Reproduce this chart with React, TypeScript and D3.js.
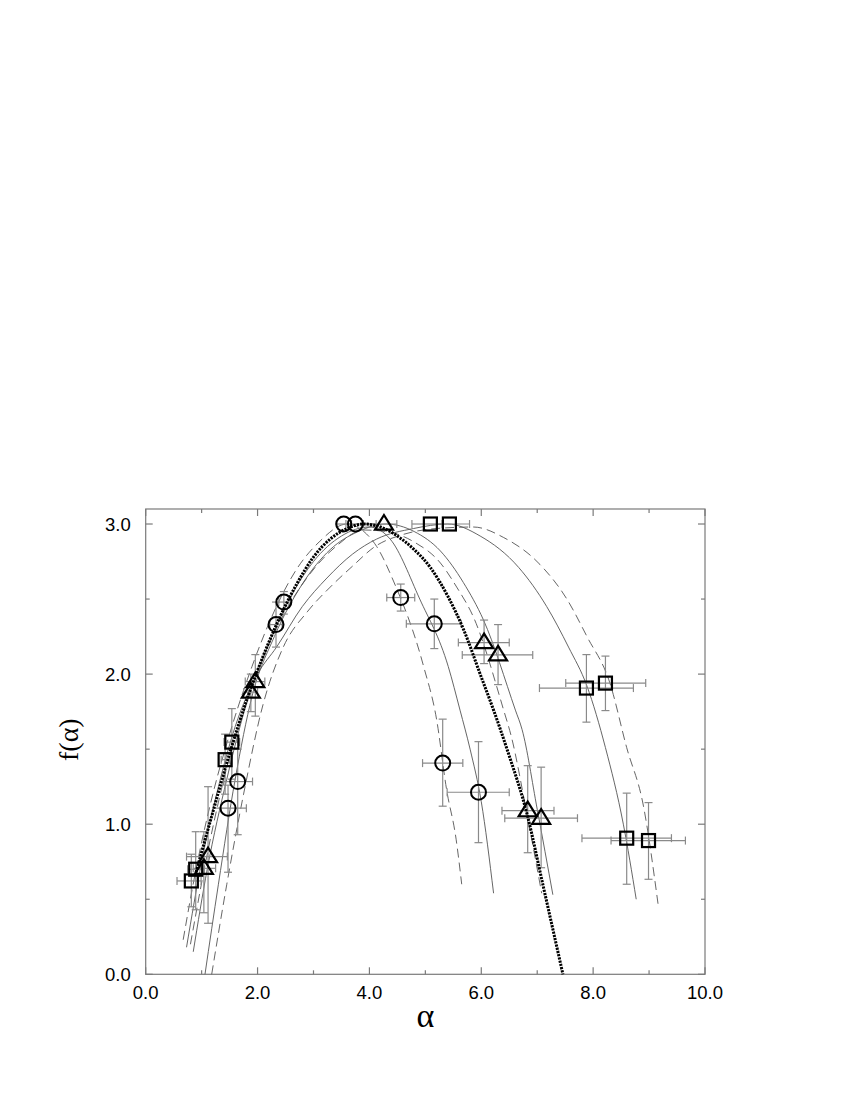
import React from "react";
import * as d3 from "d3";

type Pt = [number, number];
// [alpha, f, xLo, xHi, yLo, yHi]
type Obs = [number, number, number, number, number, number];

const xTicks = [0, 2, 4, 6, 8, 10];
const yTicks = [0, 1, 2, 3];

const circleSolid: Pt[] = [
  [0.85, 0.15], [1.1, 0.7], [1.45, 1.3], [1.8, 1.8], [2.2, 2.2], [2.6, 2.52],
  [3.0, 2.75], [3.5, 2.92], [4.0, 2.98], [4.37, 2.9], [4.9, 2.5], [5.41, 2.05],
  [5.62, 1.76], [5.8, 1.5], [6.0, 1.15], [6.22, 0.54],
];
const circleDashed: Pt[] = [
  [0.67, 0.23], [0.9, 0.7], [1.2, 1.2], [1.5, 1.6], [1.9, 2.05], [2.3, 2.42],
  [2.7, 2.7], [3.1, 2.88], [3.6, 3.0], [3.9, 2.95], [4.13, 2.85], [4.43, 2.62],
  [4.97, 2.05], [5.2, 1.7], [5.38, 1.23], [5.55, 0.9], [5.65, 0.6],
];
const triangleSolid: Pt[] = [
  [1.06, 0.0], [1.3, 0.6], [1.6, 1.3], [1.9, 1.85], [2.3, 2.25], [2.8, 2.6],
  [3.3, 2.83], [3.8, 2.95], [4.3, 3.0], [4.8, 2.95], [5.27, 2.82], [5.68, 2.61],
  [6.04, 2.36], [6.61, 1.76], [6.73, 1.63], [7.0, 1.1], [7.28, 0.53],
];
const triangleDashed: Pt[] = [
  [0.8, 0.2], [1.1, 0.8], [1.5, 1.45], [1.9, 1.92], [2.4, 2.35], [2.9, 2.65],
  [3.4, 2.85], [3.9, 2.96], [4.3, 2.95], [4.8, 2.88], [5.27, 2.74], [5.56, 2.58],
  [5.86, 2.38], [6.4, 1.76], [6.54, 1.58], [6.8, 1.1], [7.08, 0.54],
];
const squareSolid: Pt[] = [
  [0.73, 0.18], [1.0, 0.75], [1.3, 1.25], [1.6, 1.65], [2.0, 2.0], [2.34, 2.18],
  [2.8, 2.45], [3.24, 2.64], [3.7, 2.8], [4.13, 2.9], [4.79, 2.97], [5.4, 3.0],
  [5.98, 2.92], [6.67, 2.71], [7.17, 2.45], [7.56, 2.18], [7.89, 1.92],
  [8.22, 1.51], [8.54, 1.0], [8.77, 0.5],
];
const squareDashed: Pt[] = [
  [1.18, 0.0], [1.45, 0.6], [1.75, 1.2], [2.1, 1.8], [2.46, 2.18], [2.9, 2.42],
  [3.3, 2.58], [3.7, 2.72], [4.1, 2.85], [4.6, 2.93], [5.2, 2.97], [5.86, 2.98],
  [6.4, 2.91], [7.05, 2.73], [7.53, 2.5], [7.89, 2.25], [8.3, 1.94],
  [8.6, 1.51], [8.9, 1.12], [9.16, 0.47],
];
const dottedFit: Pt[] = [
  [0.9, 0.68], [1.2, 1.08], [1.5, 1.47], [1.8, 1.82], [2.1, 2.12], [2.4, 2.38],
  [2.7, 2.6], [3.0, 2.78], [3.3, 2.9], [3.6, 2.97], [3.9, 3.0], [4.2, 2.98],
  [4.5, 2.92], [4.8, 2.83], [5.09, 2.71], [5.4, 2.52], [5.68, 2.3], [6.0, 1.98],
  [6.22, 1.76], [6.46, 1.5], [6.83, 1.05], [7.1, 0.6], [7.46, 0.0],
];

const circles: Obs[] = [
  [3.54, 3.0, 3.42, 3.68, 3.0, 3.0],
  [3.75, 3.0, 3.58, 4.12, 3.0, 3.0],
  [2.33, 2.33, 2.22, 2.44, 2.18, 2.48],
  [2.47, 2.48, 2.38, 2.56, 2.4, 2.55],
  [4.56, 2.51, 4.31, 4.81, 2.42, 2.6],
  [5.16, 2.335, 4.66, 5.64, 2.17, 2.5],
  [5.31, 1.407, 4.95, 5.67, 1.12, 1.7],
  [5.95, 1.213, 5.39, 6.5, 0.877, 1.55],
  [1.645, 1.284, 1.39, 1.91, 0.93, 1.5],
  [1.472, 1.107, 1.21, 1.8, 0.68, 1.26],
];
const triangles: Obs[] = [
  [4.26, 3.0, 3.89, 4.49, 3.0, 3.0],
  [6.05, 2.21, 5.59, 6.5, 2.07, 2.36],
  [6.3, 2.128, 5.66, 6.92, 1.93, 2.33],
  [6.83, 1.09, 6.37, 7.3, 0.81, 1.39],
  [7.07, 1.04, 6.42, 7.72, 0.71, 1.38],
  [1.96, 1.95, 1.78, 2.13, 1.72, 2.13],
  [1.88, 1.88, 1.75, 2.0, 1.75, 2.0],
  [1.115, 0.784, 0.73, 1.46, 0.34, 1.25],
  [1.04, 0.706, 0.85, 1.25, 0.41, 0.95],
];
const squares: Obs[] = [
  [5.09, 3.0, 4.76, 5.3, 3.0, 3.0],
  [5.43, 3.0, 5.2, 5.79, 3.0, 3.0],
  [1.54, 1.547, 1.4, 1.68, 1.3, 1.77],
  [1.42, 1.43, 1.35, 1.5, 1.2, 1.6],
  [0.894, 0.7, 0.75, 1.05, 0.43, 0.95],
  [0.816, 0.622, 0.56, 0.99, 0.45, 0.8],
  [7.88, 1.907, 7.04, 8.72, 1.68, 2.13],
  [8.22, 1.94, 7.51, 8.94, 1.757, 2.12],
  [8.6, 0.907, 7.8, 9.4, 0.6, 1.207],
  [8.99, 0.891, 8.32, 9.65, 0.633, 1.144],
];

export default function App() {
  const width = 850;
  const height = 1100;
  const left = 145.7;
  const right = 705;
  const top = 509;
  const bottom = 974.3;

  const x = d3.scaleLinear().domain([0, 10]).range([left, right]);
  const y = d3.scaleLinear().domain([0, 3.1]).range([bottom, top]);
  const line = d3
    .line<Pt>()
    .x((d) => x(d[0]))
    .y((d) => y(d[1]))
    .curve(d3.curveMonotoneX);

  const thin = "#555";
  const axisColor = "#7a7a7a";
  const barColor = "#8a8a8a";
  const cap = 4;

  const curves: [Pt[], boolean][] = [
    [circleSolid, false],
    [circleDashed, true],
    [triangleSolid, false],
    [triangleDashed, true],
    [squareSolid, false],
    [squareDashed, true],
  ];

  const errorBars = (data: Obs[], key: string) =>
    data.map((d, i) => {
      const cx = x(d[0]);
      const cy = y(d[1]);
      const x0 = x(d[2]);
      const x1 = x(d[3]);
      const y0 = y(d[4]);
      const y1 = y(d[5]);
      return (
        <g key={`${key}-${i}`} stroke={barColor} strokeWidth={1.2}>
          {x1 - x0 > 0.5 && (
            <>
              <line x1={x0} y1={cy} x2={x1} y2={cy} />
              <line x1={x0} y1={cy - cap} x2={x0} y2={cy + cap} />
              <line x1={x1} y1={cy - cap} x2={x1} y2={cy + cap} />
            </>
          )}
          {y0 - y1 > 0.5 && (
            <>
              <line x1={cx} y1={y0} x2={cx} y2={y1} />
              <line x1={cx - cap} y1={y0} x2={cx + cap} y2={y0} />
              <line x1={cx - cap} y1={y1} x2={cx + cap} y2={y1} />
            </>
          )}
        </g>
      );
    });

  const xMinor = d3.range(0, 10.01, 1);
  const yMinor = d3.range(0, 3.01, 0.5);

  return (
    <svg width={width} height={height} style={{ position: "absolute", left: 0, top: 0 }}>
      <rect width={width} height={height} fill="white" />

      {/* frame */}
      <rect
        x={left}
        y={top}
        width={right - left}
        height={bottom - top}
        fill="none"
        stroke={axisColor}
        strokeWidth={1.2}
      />

      {/* ticks, mirrored on top and right */}
      {xMinor.map((t) => {
        const len = t % 2 === 0 ? 7 : 4;
        return (
          <g key={`xt-${t}`} stroke={axisColor} strokeWidth={1.2}>
            <line x1={x(t)} y1={bottom} x2={x(t)} y2={bottom - len} />
            <line x1={x(t)} y1={top} x2={x(t)} y2={top + len} />
          </g>
        );
      })}
      {yMinor.map((t) => {
        const len = t % 1 === 0 ? 7 : 4;
        return (
          <g key={`yt-${t}`} stroke={axisColor} strokeWidth={1.2}>
            <line x1={left} y1={y(t)} x2={left + len} y2={y(t)} />
            <line x1={right} y1={y(t)} x2={right - len} y2={y(t)} />
          </g>
        );
      })}

      {/* tick labels */}
      {xTicks.map((t) => (
        <text
          key={`xl-${t}`}
          x={x(t)}
          y={bottom + 25}
          textAnchor="middle"
          fontFamily="Liberation Sans, Arial, sans-serif"
          fontSize={18.5}
        >
          {t.toFixed(1)}
        </text>
      ))}
      {yTicks.map((t) => (
        <text
          key={`yl-${t}`}
          x={left - 15}
          y={y(t) + 6.5}
          textAnchor="end"
          fontFamily="Liberation Sans, Arial, sans-serif"
          fontSize={18.5}
        >
          {t.toFixed(1)}
        </text>
      ))}

      {/* axis titles */}
      <text
        x={(left + right) / 2}
        y={1027}
        textAnchor="middle"
        fontFamily="Liberation Serif, Times New Roman, serif"
        fontSize={34}
      >
        α
      </text>
      <text
        transform={`translate(78, ${(top + bottom) / 2 - 2}) rotate(-90)`}
        textAnchor="middle"
        fontFamily="Liberation Serif, Times New Roman, serif"
        fontSize={28}
      >
        f(α)
      </text>

      {/* thin curves */}
      {curves.map(([pts, dashed], i) => (
        <path
          key={`c-${i}`}
          d={line(pts) ?? ""}
          fill="none"
          stroke={thin}
          strokeWidth={0.9}
          strokeDasharray={dashed ? "9,5" : undefined}
        />
      ))}

      {/* error bars */}
      {errorBars(circles, "ec")}
      {errorBars(triangles, "et")}
      {errorBars(squares, "es")}

      {/* thick dotted fit */}
      <path
        d={line(dottedFit) ?? ""}
        fill="none"
        stroke="black"
        strokeWidth={3}
        strokeDasharray="2.2,1.1"
      />

      {/* markers */}
      {circles.map((d, i) => (
        <circle
          key={`m-c-${i}`}
          cx={x(d[0])}
          cy={y(d[1])}
          r={7.5}
          fill="none"
          stroke="black"
          strokeWidth={2}
        />
      ))}
      {triangles.map((d, i) => {
        const s = 9;
        const cx = x(d[0]);
        const cy = y(d[1]);
        return (
          <path
            key={`m-t-${i}`}
            d={`M${cx},${cy - s} L${cx + s},${cy + s * 0.62} L${cx - s},${cy + s * 0.62} Z`}
            fill="none"
            stroke="black"
            strokeWidth={2.2}
            strokeLinejoin="miter"
          />
        );
      })}
      {squares.map((d, i) => (
        <rect
          key={`m-s-${i}`}
          x={x(d[0]) - 6.5}
          y={y(d[1]) - 6.5}
          width={13}
          height={13}
          fill="none"
          stroke="black"
          strokeWidth={2.2}
        />
      ))}
    </svg>
  );
}
